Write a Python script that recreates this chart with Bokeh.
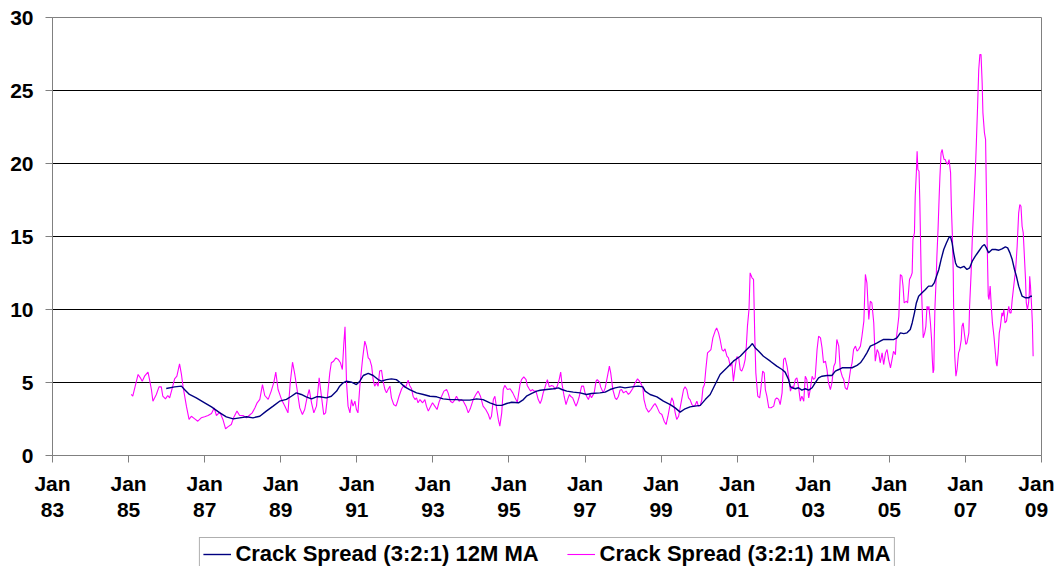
from bokeh.plotting import figure
from bokeh.layouts import column
from bokeh.models import Range1d, FixedTicker, Legend, LegendItem, ColumnDataSource
from bokeh.embed import file_html
from bokeh.resources import INLINE

# ---- data (decimal years, $/bbl) ----
m1_t = [1985.07, 1985.11, 1985.25, 1985.31, 1985.36, 1985.42, 1985.51, 1985.55, 1985.60, 1985.64,
        1985.73, 1985.80, 1985.86, 1985.90, 1985.97, 1986.03, 1986.08, 1986.15, 1986.21, 1986.27,
        1986.34, 1986.39, 1986.43, 1986.52, 1986.59, 1986.65, 1986.74, 1986.82, 1986.91, 1987.00,
        1987.09, 1987.18, 1987.25, 1987.31, 1987.40, 1987.48, 1987.55, 1987.61, 1987.70, 1987.76,
        1987.85, 1987.92, 1988.01, 1988.10, 1988.17, 1988.25, 1988.32, 1988.38, 1988.45, 1988.52,
        1988.58, 1988.67, 1988.75, 1988.82, 1988.87, 1988.93, 1989.02, 1989.11, 1989.19, 1989.25,
        1989.31, 1989.37, 1989.43, 1989.50, 1989.57, 1989.63, 1989.69, 1989.75, 1989.81, 1989.87,
        1989.94, 1990.01,
        1990.07, 1990.13, 1990.18, 1990.22, 1990.29, 1990.33, 1990.39, 1990.45, 1990.51, 1990.57,
        1990.62, 1990.66, 1990.69, 1990.73, 1990.77, 1990.82, 1990.86, 1990.90, 1990.95, 1990.99,
        1991.03, 1991.08, 1991.15, 1991.21, 1991.25, 1991.30, 1991.34, 1991.39, 1991.43, 1991.47,
        1991.52, 1991.56, 1991.60, 1991.65, 1991.69, 1991.74, 1991.78, 1991.82, 1991.87, 1991.91,
        1991.97, 1992.03, 1992.06, 1992.11, 1992.18, 1992.24, 1992.29, 1992.35, 1992.39, 1992.44,
        1992.48, 1992.53, 1992.57, 1992.61, 1992.66, 1992.73, 1992.79, 1992.83, 1992.88, 1992.92,
        1992.99, 1993.05, 1993.11, 1993.17, 1993.23, 1993.29, 1993.36, 1993.40, 1993.46, 1993.52,
        1993.58, 1993.62, 1993.69, 1993.75, 1993.80, 1993.87, 1993.93, 1993.99, 1994.06, 1994.13,
        1994.19, 1994.25, 1994.32, 1994.39, 1994.46, 1994.50, 1994.54, 1994.59, 1994.63, 1994.68,
        1994.72, 1994.76, 1994.81, 1994.85, 1994.89, 1994.96, 1995.03, 1995.10, 1995.16, 1995.22,
        1995.29, 1995.33, 1995.39, 1995.45, 1995.48, 1995.53, 1995.57, 1995.62, 1995.66, 1995.71,
        1995.77, 1995.82, 1995.86, 1995.90, 1995.97, 1996.01, 1996.06, 1996.12, 1996.17, 1996.21,
        1996.27, 1996.32, 1996.36, 1996.39, 1996.45, 1996.50, 1996.54, 1996.59, 1996.62, 1996.675,
        1996.71, 1996.76, 1996.80, 1996.85, 1996.91, 1996.96, 1997.00, 1997.04, 1997.09, 1997.13,
        1997.17, 1997.24, 1997.29, 1997.32, 1997.38, 1997.41, 1997.48, 1997.53, 1997.59, 1997.64,
        1997.675, 1997.73, 1997.79, 1997.83, 1997.88, 1997.92, 1997.96, 1998.01, 1998.08, 1998.14,
        1998.18, 1998.25, 1998.32, 1998.38, 1998.43, 1998.46, 1998.52, 1998.55, 1998.605, 1998.67,
        1998.73, 1998.80, 1998.84, 1998.89, 1998.96, 1999.02, 1999.08, 1999.13, 1999.18, 1999.22,
        1999.28, 1999.32, 1999.37, 1999.41, 1999.46, 1999.50, 1999.54, 1999.59, 1999.63, 1999.675,
        1999.72, 1999.76, 1999.81, 1999.85, 1999.89, 1999.94, 1999.98, 2000.03, 2000.07, 2000.10,
        2000.14, 2000.175, 2000.22, 2000.27, 2000.31, 2000.36, 2000.42, 2000.46, 2000.51,
        2000.55, 2000.60, 2000.64, 2000.68, 2000.73, 2000.77, 2000.82, 2000.86, 2000.90, 2000.95,
        2000.99, 2001.04, 2001.08, 2001.12, 2001.17, 2001.21, 2001.24, 2001.27, 2001.31, 2001.34,
        2001.39, 2001.43, 2001.46, 2001.49, 2001.54, 2001.59, 2001.62, 2001.67, 2001.71, 2001.74,
        2001.78, 2001.83, 2001.89, 2001.96, 2002.00, 2002.04, 2002.09, 2002.13, 2002.18, 2002.22,
        2002.26, 2002.31, 2002.35, 2002.40, 2002.44, 2002.48, 2002.53, 2002.57, 2002.61, 2002.66,
        2002.70, 2002.75, 2002.79, 2002.83, 2002.88, 2002.92, 2002.97, 2003.01, 2003.05, 2003.10,
        2003.14, 2003.19, 2003.23, 2003.27, 2003.32, 2003.36, 2003.40, 2003.45, 2003.49, 2003.54,
        2003.58, 2003.62, 2003.67, 2003.71, 2003.76, 2003.80, 2003.84, 2003.89, 2003.93, 2003.98,
        2004.02, 2004.06, 2004.11, 2004.15, 2004.19, 2004.24, 2004.28, 2004.33, 2004.37, 2004.41,
        2004.46, 2004.50, 2004.54, 2004.59, 2004.63, 2004.68, 2004.72, 2004.76, 2004.81, 2004.85,
        2004.90, 2004.94, 2004.98,
        2005.03, 2005.07, 2005.11, 2005.16, 2005.18, 2005.22, 2005.25, 2005.27, 2005.29, 2005.33,
        2005.36, 2005.39, 2005.45, 2005.48, 2005.51, 2005.53, 2005.57, 2005.60, 2005.62, 2005.66,
        2005.68, 2005.71, 2005.73, 2005.75, 2005.78, 2005.80, 2005.82, 2005.84, 2005.87, 2005.89,
        2005.93, 2005.96, 2005.99, 2006.02, 2006.04, 2006.08, 2006.11, 2006.13, 2006.15, 2006.17,
        2006.18, 2006.20, 2006.23, 2006.25, 2006.28, 2006.31, 2006.33, 2006.36, 2006.39, 2006.41,
        2006.44, 2006.47, 2006.50, 2006.53, 2006.57, 2006.61, 2006.63, 2006.66, 2006.68, 2006.69,
        2006.72, 2006.75, 2006.78, 2006.82, 2006.85, 2006.89, 2006.91, 2006.94, 2006.97, 2007.01,
        2007.04, 2007.09, 2007.11, 2007.15, 2007.18, 2007.22, 2007.26, 2007.29, 2007.32, 2007.35,
        2007.38, 2007.41, 2007.44, 2007.46, 2007.50, 2007.53, 2007.55, 2007.57, 2007.60, 2007.62,
        2007.65, 2007.68, 2007.71, 2007.75, 2007.78, 2007.81, 2007.83, 2007.86, 2007.89, 2007.92,
        2007.96, 2007.98, 2008.01, 2008.04, 2008.08, 2008.11, 2008.14, 2008.17, 2008.20, 2008.23,
        2008.27, 2008.32, 2008.36, 2008.40, 2008.43, 2008.46, 2008.49, 2008.52, 2008.55, 2008.58,
        2008.60, 2008.63, 2008.66, 2008.68, 2008.69, 2008.71, 2008.74, 2008.76, 2008.78]
m1_v = [4.18, 4.06, 5.55, 5.32, 5.09, 5.43, 5.71, 5.21, 4.52, 3.72,
        4.18, 4.70, 4.70, 4.06, 3.88, 4.11, 3.95, 4.63, 5.25, 5.43,
        6.28, 5.55, 4.75, 3.38, 2.47, 2.69, 2.51, 2.35, 2.58, 2.65,
        2.74, 2.88, 3.26, 2.74, 2.97, 2.47, 1.83, 1.96, 2.12, 2.58,
        3.04, 2.74, 2.74, 2.58, 2.74, 2.92, 3.26, 3.61, 3.84, 4.86,
        4.11, 3.84, 4.41, 5.02, 5.71, 4.52, 3.84, 3.38, 2.92, 4.98,
        6.39, 5.55, 4.52, 3.26, 2.81, 3.15, 3.95, 4.52, 3.61, 2.92,
        3.38, 5.32,
        4.06, 2.81, 2.92, 3.83, 5.66, 6.35, 6.46, 6.69, 6.58, 6.35,
        5.89, 7.72, 8.81, 4.98, 3.38, 2.92, 3.83, 3.38, 3.72, 3.15,
        2.92, 4.75, 6.58, 7.83, 7.49, 6.69, 6.58, 6.12, 5.20, 4.75,
        4.98, 4.75, 5.78, 5.84, 5.09, 4.52, 4.29, 4.52, 4.75, 3.95,
        3.49, 3.38, 3.61, 4.06, 4.57, 4.80, 4.70, 5.16, 4.80, 4.57,
        4.06, 3.83, 3.95, 3.61, 3.83, 3.61, 3.83, 3.38, 3.04, 3.26,
        3.61, 3.38, 3.15, 3.72, 4.06, 4.41, 4.52, 4.29, 3.72, 3.61,
        3.83, 4.06, 3.72, 3.83, 3.72, 3.38, 2.92, 3.26, 3.83, 4.18,
        4.41, 4.06, 3.38, 3.15, 2.81, 2.47, 2.69, 3.83, 4.06, 3.15,
        2.47, 2.01, 2.92, 4.52, 4.80, 4.52, 4.57, 4.29, 3.95, 3.65,
        4.86, 5.20, 5.39, 5.20, 4.80, 4.57, 4.41, 4.52, 4.41, 4.41,
        3.83, 3.56, 3.83, 4.29, 4.86, 5.20, 4.70, 4.80, 4.75, 4.52,
        4.75, 5.20, 5.71, 4.98, 4.06, 3.49, 3.83, 4.18, 4.06, 3.95,
        3.72, 3.38, 3.61, 4.06, 4.75, 4.75, 4.29, 4.06, 3.83, 4.18,
        3.95, 4.29, 5.09, 5.20, 5.02, 4.70, 4.29, 4.63, 5.43, 6.12,
        5.66, 4.52, 3.95, 3.83, 4.06, 4.47, 4.52, 4.29, 4.41, 4.18,
        4.29, 4.57, 4.98, 5.25, 5.09, 4.98, 4.63, 3.83, 3.26, 2.97,
        3.15, 3.43, 3.56, 3.33, 2.92, 2.81, 2.35, 2.12, 2.69, 3.26,
        3.95, 3.72, 2.92, 2.47, 2.69, 3.26, 3.83, 4.52, 4.70, 4.52,
        3.95, 3.83, 3.49, 3.38, 3.43, 3.72, 3.38, 3.43, 3.83, 4.63,
        4.86, 5.89, 7.03, 7.15, 7.26, 8.06, 8.52, 8.74, 8.40,
        7.95, 7.26, 7.15, 7.31, 6.80, 6.69, 6.12, 6.35, 5.09, 6.12,
        6.76, 6.69, 5.89, 5.78, 6.12, 6.58, 7.49, 8.86, 10.00, 12.51,
        12.17, 12.06, 8.40, 5.66, 4.07, 3.95, 4.52, 5.78, 5.66, 4.52,
        4.07, 3.27, 3.27, 3.38, 3.84, 3.95, 3.84, 3.49, 4.29, 6.58,
        6.69, 6.12, 5.43, 4.41, 4.75, 4.64, 5.21, 5.32, 4.75, 3.72,
        4.07, 3.72, 5.43, 5.21, 3.95, 4.52, 5.43, 5.21, 5.32, 7.26,
        8.17, 8.06, 7.38, 6.35, 6.46, 5.89, 4.98, 4.52, 4.98, 6.12,
        6.35, 7.95, 7.49, 5.89, 5.43, 5.21, 4.64, 4.52, 4.98, 5.89,
        6.35, 7.26, 7.49, 7.15, 7.26, 7.49, 8.17, 9.20, 12.40, 11.83,
        9.32, 10.57, 10.46, 9.09, 6.46, 7.26, 7.03, 6.35, 7.03, 6.23,
        7.03, 7.26, 6.58,
        6.00, 6.57, 7.14, 6.91, 7.94, 8.85, 9.54, 11.14, 12.39, 12.28,
        11.60, 10.45, 10.57, 10.45, 11.37, 12.05, 12.28, 12.51, 14.79, 15.25,
        17.76, 19.36, 20.84, 19.59, 19.47, 17.53, 14.79, 11.82, 9.54, 8.06,
        8.40, 8.85, 10.22, 9.99, 10.22, 9.08, 7.94, 6.57, 5.66, 5.89,
        7.94, 10.22, 12.05, 13.65, 15.48, 17.76, 19.13, 20.73, 20.96, 20.61,
        20.27, 20.27, 20.04, 19.93, 20.27, 19.36, 17.07, 14.79, 12.51, 10.22,
        6.80, 5.43, 5.89, 7.03, 7.26, 7.94, 8.85, 9.08, 8.40, 7.60,
        7.71, 8.40, 10.22, 12.51, 14.79, 17.07, 19.36, 21.64, 23.92, 26.44,
        27.46, 27.46, 25.52, 23.47, 22.10, 21.64, 18.22, 14.79, 10.91, 10.68,
        11.60, 10.22, 9.08, 8.17, 7.26, 6.34, 6.12, 7.03, 8.40, 8.85,
        9.77, 9.54, 9.99, 9.08, 9.20, 9.77, 10.22, 9.77, 9.77, 10.68,
        11.60, 12.74, 14.33, 16.62, 17.19, 17.07, 15.70, 15.25, 13.65, 12.05,
        10.45, 9.99, 10.45, 11.14, 12.28, 11.60, 10.22, 9.08, 6.80]

m12_t = [1985.99, 1986.21, 1986.39, 1986.47, 1986.60, 1986.78, 1987.00, 1987.18, 1987.40, 1987.57,
         1987.75, 1987.92, 1988.10, 1988.27, 1988.45, 1988.62, 1988.80, 1988.97, 1989.15, 1989.28,
         1989.41, 1989.54, 1989.67, 1989.81, 1989.94,
         1990.03, 1990.20, 1990.33, 1990.47, 1990.55, 1990.64, 1990.73, 1990.86, 1990.99, 1991.08,
         1991.17, 1991.30, 1991.43, 1991.56, 1991.65, 1991.78, 1991.91, 1992.04, 1992.13, 1992.26,
         1992.39, 1992.57, 1992.75, 1992.92, 1993.10, 1993.27, 1993.45, 1993.62, 1993.80, 1993.97,
         1994.15, 1994.32, 1994.50, 1994.68, 1994.81, 1994.94, 1995.07, 1995.25,
         1995.38, 1995.46, 1995.60, 1995.73, 1995.82, 1995.99, 1996.17, 1996.30, 1996.39, 1996.52,
         1996.69, 1996.87, 1997.04, 1997.17, 1997.39, 1997.53, 1997.66, 1997.79, 1997.92, 1998.05,
         1998.23, 1998.40, 1998.52, 1998.58, 1998.71, 1998.89, 1999.06, 1999.24, 1999.37, 1999.50,
         1999.63, 1999.76, 1999.89, 2000.03, 2000.16, 2000.29, 2000.42,
         2000.55, 2000.73, 2000.90, 2001.08, 2001.21, 2001.34, 2001.40, 2001.47, 2001.56, 2001.69,
         2001.87, 2002.04, 2002.18, 2002.26, 2002.35, 2002.40, 2002.44, 2002.53, 2002.61, 2002.70,
         2002.79, 2002.88, 2002.97, 2003.05, 2003.14, 2003.23, 2003.36, 2003.49, 2003.58, 2003.67,
         2003.76, 2003.89, 2004.02, 2004.15, 2004.24, 2004.33, 2004.41, 2004.50, 2004.59, 2004.68,
         2004.76, 2004.85, 2004.98,
         2005.11, 2005.20, 2005.29, 2005.38, 2005.465, 2005.55, 2005.60, 2005.66, 2005.71, 2005.77,
         2005.86, 2005.95, 2006.03, 2006.12, 2006.18, 2006.24, 2006.30, 2006.36, 2006.43, 2006.50,
         2006.56, 2006.605, 2006.65, 2006.69, 2006.74, 2006.78, 2006.87, 2006.96, 2007.04, 2007.11,
         2007.18, 2007.26, 2007.35, 2007.44, 2007.50, 2007.55, 2007.61, 2007.70, 2007.79, 2007.88,
         2007.96, 2008.05, 2008.11, 2008.17, 2008.23, 2008.29, 2008.34, 2008.40, 2008.49, 2008.58,
         2008.67, 2008.71, 2008.75]
m12_v = [4.59, 4.70, 4.75, 4.52, 4.18, 3.95, 3.61, 3.33, 2.92, 2.65,
         2.51, 2.58, 2.65, 2.58, 2.69, 3.04, 3.38, 3.72, 3.84, 4.06,
         4.29, 4.18, 4.02, 3.88, 4.02,
         4.02, 3.95, 4.06, 4.41, 4.75, 4.98, 5.09, 5.02, 4.86, 5.09,
         5.48, 5.62, 5.48, 5.20, 5.09, 5.20, 5.25, 5.20, 5.02, 4.70,
         4.52, 4.29, 4.18, 4.06, 4.02, 3.88, 3.83, 3.83, 3.79, 3.79,
         3.88, 3.83, 3.61, 3.43, 3.43, 3.56, 3.65, 3.61,
         3.83, 4.06, 4.25, 4.41, 4.47, 4.52, 4.57, 4.63, 4.52, 4.41,
         4.34, 4.29, 4.18, 4.25, 4.29, 4.34, 4.52, 4.63, 4.70, 4.63,
         4.70, 4.75, 4.70, 4.41, 4.18, 4.02, 3.72, 3.49, 3.26, 2.97,
         3.20, 3.33, 3.38, 3.43, 3.83, 4.18, 4.86,
         5.55, 6.01, 6.46, 6.80, 7.15, 7.49, 7.67, 7.38, 7.15, 6.80,
         6.46, 6.12, 5.89, 5.71, 5.21, 4.70, 4.64, 4.57, 4.64, 4.48,
         4.57, 4.48, 4.64, 4.98, 5.32, 5.43, 5.48, 5.48, 5.78, 5.89,
         6.01, 6.01, 6.01, 6.17, 6.35, 6.69, 7.03, 7.49, 7.60, 7.72,
         7.83, 7.95, 7.95,
         7.94, 8.06, 8.40, 8.35, 8.40, 8.63, 9.08, 9.77, 10.45, 10.91,
         11.14, 11.37, 11.60, 11.60, 11.82, 12.28, 12.74, 13.42, 14.11, 14.56,
         14.90, 15.02, 14.56, 13.88, 13.19, 12.96, 12.85, 12.96, 12.74, 12.85,
         13.31, 13.65, 13.99, 14.33, 14.45, 14.22, 13.88, 14.11, 14.11, 14.06,
         14.15, 14.29, 14.22, 13.88, 13.42, 12.74, 12.28, 11.60, 10.91, 10.80,
         10.80, 10.91, 10.91]

x_ticks = [1983, 1985, 1987, 1989, 1991, 1993, 1995, 1997, 1999, 2001, 2003, 2005, 2007, 2009]
x_tick_labels = ["Jan\n83", "Jan\n85", "Jan\n87", "Jan\n89", "Jan\n91", "Jan\n93", "Jan\n95",
                 "Jan\n97", "Jan\n99", "Jan\n01", "Jan\n03", "Jan\n05", "Jan\n07", "Jan\n09"]
y_ticks = [0, 5, 10, 15, 20, 25, 30]
series_names = ["Crack Spread (3:2:1) 12M MA", "Crack Spread (3:2:1) 1M MA"]
series_colors = ["#000080", "#FF00FF"]
series_widths = [1.4, 1.1]

FONT = "Liberation Sans"

# ---- main chart ----
p = figure(width=1054, height=525, output_backend="svg", toolbar_location=None,
           x_range=Range1d(1983, 2009), y_range=Range1d(0, 30))
p.min_border_left = 52
p.min_border_top = 17
p.min_border_right = 13
p.min_border_bottom = 70
p.background_fill_color = "white"
p.border_fill_color = "white"
p.outline_line_color = "#808080"
p.outline_line_width = 1

p.xgrid.visible = False
p.ygrid.grid_line_color = "#000000"
p.ygrid.grid_line_width = 1
p.ygrid.ticker = FixedTicker(ticks=y_ticks)

for ax in (p.xaxis[0], p.yaxis[0]):
    ax.axis_line_color = "#808080"
    ax.major_tick_line_color = "#808080"
    ax.major_tick_in = 0
    ax.major_tick_out = 7
    ax.minor_tick_line_color = None
    ax.major_label_text_font = FONT
    ax.major_label_text_font_style = "bold"
    ax.major_label_text_font_size = "21px"
    ax.major_label_text_color = "#000000"

p.yaxis.ticker = FixedTicker(ticks=y_ticks)
p.yaxis.major_label_standoff = 12
p.xaxis.ticker = FixedTicker(ticks=x_ticks)
p.xaxis.major_label_overrides = {t: lab for t, lab in zip(x_ticks, x_tick_labels)}
p.xaxis.major_label_standoff = 9
p.xaxis.major_label_text_line_height = 1.15

src12 = ColumnDataSource(data=dict(t=m12_t, v=m12_v))
src1 = ColumnDataSource(data=dict(t=m1_t, v=m1_v))
r1 = p.line("t", "v", source=src1, line_color=series_colors[1], line_width=series_widths[1])
r12 = p.line("t", "v", source=src12, line_color=series_colors[0], line_width=series_widths[0])

# ---- legend strip (separate figure below the chart; same sources, view kept off the data) ----
q = figure(width=1054, height=41, output_backend="svg", toolbar_location=None,
           x_range=Range1d(0, 1), y_range=Range1d(100, 101))
q.axis.visible = False
q.grid.visible = False
q.outline_line_color = None
q.min_border = 0
q.background_fill_color = "white"
q.border_fill_color = "white"
lr12 = q.line("t", "v", source=src12, line_color=series_colors[0], line_width=series_widths[0])
lr1 = q.line("t", "v", source=src1, line_color=series_colors[1], line_width=series_widths[1])

legend = Legend(items=[LegendItem(label=series_names[0], renderers=[lr12]),
                       LegendItem(label=series_names[1], renderers=[lr1])],
                orientation="horizontal", location="top_center")
legend.label_text_font = FONT
legend.label_text_font_style = "bold"
legend.label_text_font_size = "22px"
legend.label_text_color = "#000000"
legend.glyph_width = 28
legend.glyph_height = 16
legend.label_height = 16
legend.label_standoff = 5
legend.spacing = 28
legend.padding = 3
legend.margin = 12
legend.border_line_color = "#606060"
legend.border_line_width = 1
legend.background_fill_color = "white"
legend.background_fill_alpha = 1.0
q.add_layout(legend)

layout = column(p, q, spacing=0)
open("out.html", "w").write(file_html(layout, INLINE))
